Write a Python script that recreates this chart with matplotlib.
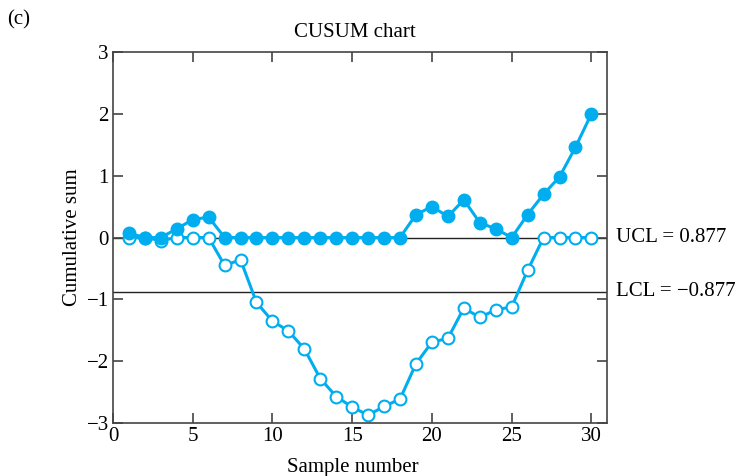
import matplotlib

matplotlib.use("Agg")
import matplotlib.pyplot as plt
import matplotlib.transforms as mtransforms
import numpy as np

# data
samples = np.arange(1, 31)
upper = [0.07, 0.0, 0.0, 0.14, 0.29, 0.33, 0.0, 0.0, 0.0, 0.0,
         0.0, 0.0, 0.0, 0.0, 0.0, 0.0, 0.0, 0.0, 0.37, 0.50,
         0.34, 0.61, 0.24, 0.14, 0.0, 0.37, 0.70, 0.98, 1.46, 2.00]
lower = [0.0, 0.0, -0.05, 0.0, 0.0, 0.0, -0.45, -0.36, -1.05, -1.35,
         -1.51, -1.80, -2.28, -2.57, -2.74, -2.87, -2.73, -2.61, -2.04, -1.69,
         -1.63, -1.14, -1.29, -1.17, -1.12, -0.53, 0.0, 0.0, 0.0, 0.0]
ucl_line = 0.0
lcl_line = -0.877
ucl_label = "UCL = 0.877"
lcl_label = "LCL = \u22120.877"

plt.rcParams["font.family"] = ["Liberation Serif", "DejaVu Serif"]
plt.rcParams["axes.unicode_minus"] = True

COLOR = "#00aeef"

fig = plt.figure(figsize=(7.48, 4.76), dpi=100)
ax = fig.add_axes([0.151, 0.111, 0.661, 0.780])

ax.axhline(ucl_line, color="#222222", lw=1.0, zorder=1)
ax.axhline(lcl_line, color="#222222", lw=1.0, zorder=1)

ax.plot(samples, lower, "-o", color=COLOR, lw=2.2, ms=8.5, mfc="white",
        mec=COLOR, mew=1.5, zorder=2)
ax.plot(samples, upper, "-o", color=COLOR, lw=2.2, ms=9, mfc=COLOR,
        mec=COLOR, zorder=3)

ax.set_xlim(0, 31)
ax.set_ylim(-3, 3)
ax.set_xticks([0, 5, 10, 15, 20, 25, 30])
ax.set_yticks([-3, -2, -1, 0, 1, 2, 3])
ax.tick_params(direction="in", length=7, width=1.2, labelsize=15, color="#444444",
               top=True, right=True, pad=3)
for s in ax.spines.values():
    s.set_color("#444444")
    s.set_linewidth(1.2)

ax.set_title("CUSUM chart", fontsize=15, pad=11, x=0.49)
ax.set_xlabel("Sample number", fontsize=15)
ax.xaxis.set_label_coords(0.485, -0.095)
ax.set_ylabel("Cumulative sum", fontsize=15, labelpad=3)

trans = mtransforms.blended_transform_factory(ax.transAxes, ax.transData)
ax.text(1.018, ucl_line, ucl_label, transform=trans, fontsize=15, va="center", ha="left")
ax.text(1.018, lcl_line, lcl_label, transform=trans, fontsize=15, va="center", ha="left")

fig.text(0.010, 0.978, "(c)", fontsize=15, va="top", ha="left")

fig.savefig("out.png", dpi=100)
plt.close(fig)
